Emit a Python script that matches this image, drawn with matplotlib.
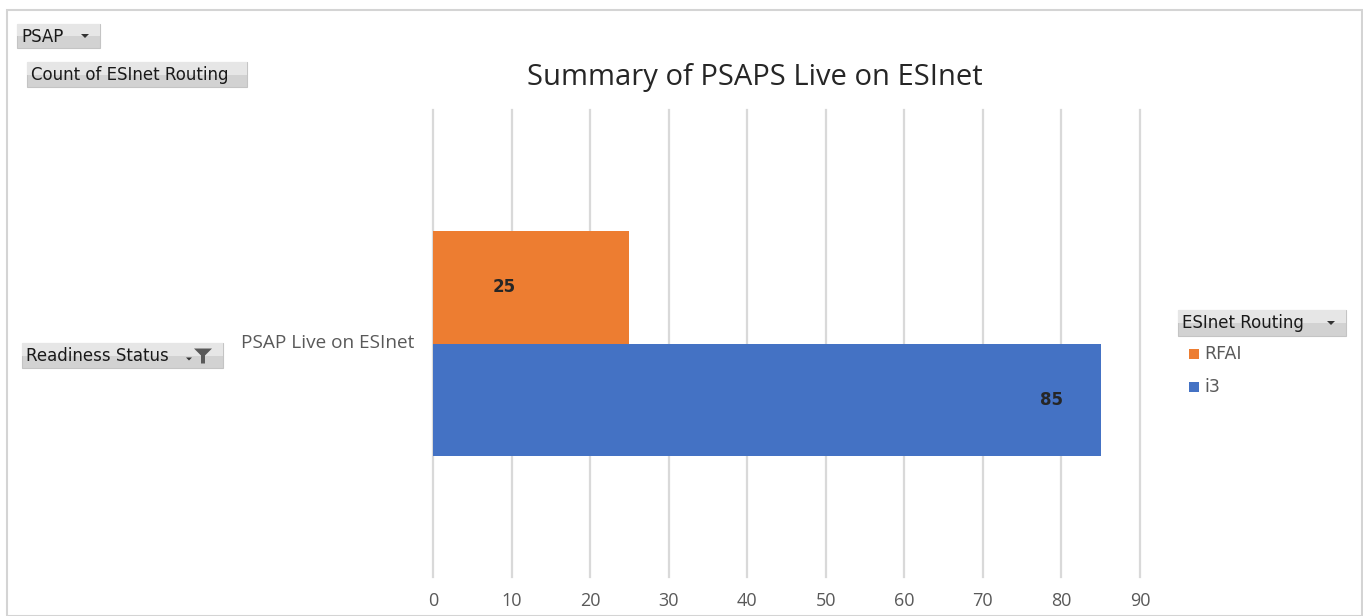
import matplotlib
matplotlib.use("Agg")
import matplotlib.pyplot as plt
from matplotlib.patches import Rectangle, Polygon

category = ["PSAP Live on ESInet"]
series_names = ["RFAI", "i3"]
series_values = [25, 85]
series_colors = ["#ED7D31", "#4472C4"]
label_x = [9.0, 78.7]
xticks = [0, 10, 20, 30, 40, 50, 60, 70, 80, 90]
title = "Summary of PSAPS Live on ESInet"

W, H = 1363, 616
fig = plt.figure(figsize=(W / 100, H / 100), dpi=100)
fig.patch.set_facecolor("white")

def fx(px):
    return px / W

def fy(py):
    return 1 - py / H

# outer border
fig.patches.append(Rectangle((fx(7), fy(616)), fx(1355), fy(10) - fy(616),
                             transform=fig.transFigure, fill=False,
                             edgecolor="#d4d4d4", linewidth=1.5))

ax = fig.add_axes([fx(433), fy(577), fx(1140) - fx(433), fy(110) - fy(577)])
ax.set_xlim(0, 90)
ax.set_ylim(-0.5, 0.5)
offsets = [0.12, -0.12]
for name, val, col, off, lx in zip(series_names, series_values, series_colors, offsets, label_x):
    ax.barh([off], [val], height=0.24, color=col, zorder=3)
    ax.text(lx, off, str(val), ha="center", va="center", fontsize=12,
            fontweight="bold", color="#262626", zorder=4, family="DejaVu Sans")

ax.set_xticks(xticks)
ax.xaxis.grid(True, color="#d9d9d9", linewidth=1.6, zorder=0)
for gl in ax.get_xgridlines():
    gl.set_clip_on(False)
ax.set_yticks([])
for s in ax.spines.values():
    s.set_visible(False)
ax.tick_params(axis="x", length=0, pad=11, labelsize=13, labelcolor="#595959")
for lbl in ax.get_xticklabels():
    lbl.set_family("Open Sans")

fig.text(fx(755), fy(77), title, ha="center", va="center", fontsize=21,
         color="#262626", family="Open Sans")
fig.text(fx(414), fy(343), category[0], ha="right", va="center", fontsize=13.7,
         color="#595959", family="Open Sans")

def button(x0, y0, x1, y1, label, arrow=True, funnel=False):
    fig.patches.append(Rectangle((fx(x0), fy(y1)), fx(x1 - x0), fy(y0) - fy(y1),
                                 transform=fig.transFigure, facecolor="#d2d2d2",
                                 edgecolor="#c4c4c4", linewidth=0.8))
    fig.patches.append(Rectangle((fx(x0), fy((y0 + y1) / 2)), fx(x1 - x0), fy(y0) - fy((y0 + y1) / 2),
                                 transform=fig.transFigure, facecolor="#e6e6e6",
                                 edgecolor="none"))
    fig.text(fx(x0 + 4), fy((y0 + y1) / 2 + 0.5), label, ha="left", va="center",
             fontsize=12, color="#1a1a1a", family="DejaVu Sans")
    if arrow and not funnel:
        cx, cy = x1 - 15, (y0 + y1) / 2
        fig.patches.append(Polygon([(fx(cx - 4), fy(cy - 2)), (fx(cx + 4), fy(cy - 2)), (fx(cx), fy(cy + 2))],
                                   closed=True, transform=fig.transFigure,
                                   facecolor="#333333", edgecolor="none"))
    if funnel:
        cx, cy = x1 - 20, (y0 + y1) / 2
        fig.patches.append(Polygon([(fx(cx - 17), fy(cy + 2)), (fx(cx - 11), fy(cy + 2)), (fx(cx - 14), fy(cy + 5))],
                                   closed=True, transform=fig.transFigure,
                                   facecolor="#333333", edgecolor="none"))
        fig.patches.append(Polygon([(fx(cx - 9), fy(cy - 7)), (fx(cx + 9), fy(cy - 7)),
                                    (fx(cx + 2), fy(cy)), (fx(cx + 2), fy(cy + 8)),
                                    (fx(cx - 2), fy(cy + 8)), (fx(cx - 2), fy(cy))],
                                   closed=True, transform=fig.transFigure,
                                   facecolor="#595959", edgecolor="none"))

button(17, 24, 100, 48, "PSAP")
button(27, 62, 247, 87, "Count of ESInet Routing", arrow=False)
button(22, 343, 223, 368, "Readiness Status", funnel=True)
button(1178, 310, 1346, 336, "ESInet Routing")

# legend entries
for i, (name, col) in enumerate(zip(series_names, series_colors)):
    y = 354 + i * 33
    fig.patches.append(Rectangle((fx(1189), fy(y + 5)), fx(10), fy(y - 5) - fy(y + 5),
                                 transform=fig.transFigure, facecolor=col, edgecolor="none"))
    fig.text(fx(1204), fy(y), name, ha="left", va="center", fontsize=12.5,
             color="#595959", family="DejaVu Sans")

fig.savefig("out.png", dpi=100, facecolor="white")
